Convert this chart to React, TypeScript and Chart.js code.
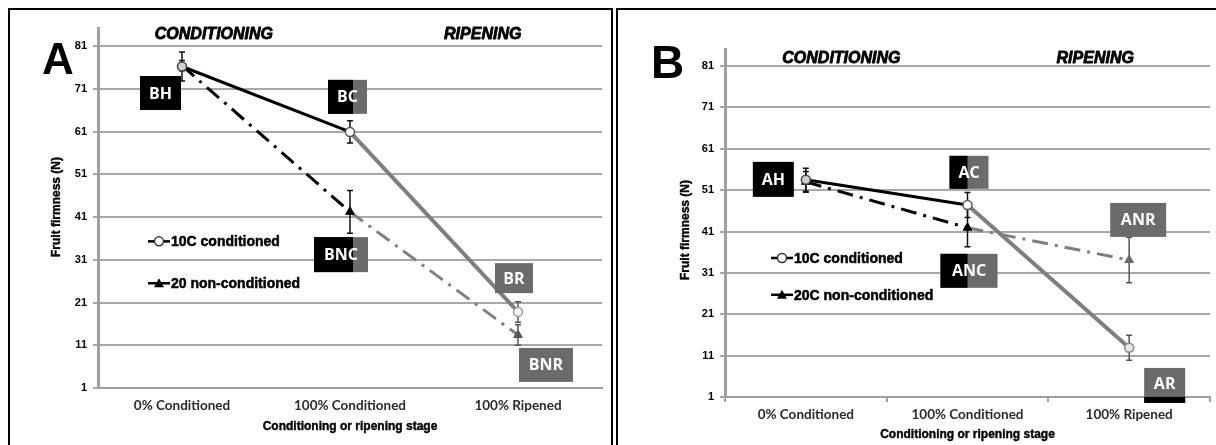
import React, { useEffect, useRef } from "react";
import { Chart, registerables } from "chart.js";

Chart.register(...registerables);

// ---------- shared data ----------
const categories = ["0% Conditioned", "100% Conditioned", "100% Ripened"];
const yTickValues = [1, 11, 21, 31, 41, 51, 61, 71, 81];
const yMin = 1;
const yMax = 85;
const stageTitles = ["CONDITIONING", "RIPENING"];
const xAxisTitle = "Conditioning or ripening stage";
const yAxisTitle = "Fruit firmness (N)";

// ---------- panel A data ----------
const aConditioned = [76.2, 60.9, 18.8];
const aConditionedErr = [3.4, 2.6, 2.4];
const aNonConditioned = [76.4, 42.2, 13.4];
const aNonConditionedErr = [1.2, 5.0, 2.4];
const aSeriesNames = ["10C conditioned", "20 non-conditioned"];
const aLabelTexts = ["BH", "BC", "BNC", "BR", "BNR"];
const aLabelCats = [0, 1, 1, 2, 2];
const aLabelValues = [70.0, 69.1, 32.2, 26.7, 6.4];

// ---------- panel B data ----------
const bConditioned = [53.5, 47.4, 12.9];
const bConditionedErr = [2.8, 3.0, 3.0];
const bNonConditioned = [53.0, 41.9, 34.1];
const bNonConditionedErr = [2.5, 4.6, 5.5];
const bSeriesNames = ["10C conditioned", "20C non-conditioned"];
const bLabelTexts = ["AH", "AC", "ANC", "ANR", "AR"];
const bLabelCats = [0, 1, 1, 2, 2];
const bLabelValues = [53.6, 55.3, 31.5, 43.8, 3.8];

// ---------- layout / style configs ----------
const panelA = {
  letter: "A",
  cond: aConditioned,
  condErr: aConditionedErr,
  non: aNonConditioned,
  nonErr: aNonConditionedErr,
  names: aSeriesNames,
  labelTexts: aLabelTexts,
  labelCats: aLabelCats,
  labelValues: aLabelValues,
  labelLayout: [
    { dx: -21.5, w: 41, h: 34, style: "black", split: 0 },
    { dx: -2.5, w: 39, h: 34, style: "split", split: 3 },
    { dx: -9, w: 54, h: 35, style: "split", split: 3 },
    { dx: -4, w: 38, h: 30, style: "gray", split: 0 },
    { dx: 28, w: 54, h: 34, style: "gray", split: 0 },
  ],
  canvasLeft: 10,
  canvasTop: 10,
  width: 601,
  height: 435,
  padTop: 18.9,
  padRight: 9,
  yAxisWidth: 88,
  xAxisHeight: 57,
  letterX: 32,
  letterBaseline: 64,
  letterSize: 44,
  stageX: [0.19, 1.79],
  stageValue: 83.6,
  legendDx: 50,
  legendValues: [35.3, 25.5],
  yTitleX: 47,
  yTitleY: 197,
  xTitleDy: 39,
  xTicksDraw: false,
  xTickPadding: 10,
  condFill: ["#d0d0d0", "#ffffff", "#f2f2f2"],
  condBorder: ["#444", "#555", "#999"],
  nonFill: ["#000", "#000", "#555"],
};

const panelB = {
  letter: "B",
  cond: bConditioned,
  condErr: bConditionedErr,
  non: bNonConditioned,
  nonErr: bNonConditionedErr,
  names: bSeriesNames,
  labelTexts: bLabelTexts,
  labelCats: bLabelCats,
  labelValues: bLabelValues,
  labelLayout: [
    { dx: -32.5, w: 41, h: 35, style: "black", split: 0 },
    { dx: 1.5, w: 39, h: 33, style: "split", split: 0 },
    { dx: 1.5, w: 57, h: 34, style: "split", split: 0 },
    { dx: 9, w: 56, h: 34, style: "gray", split: 0 },
    { dx: 35.5, w: 41, h: 35, style: "grayBottom", split: 0 },
  ],
  canvasLeft: 618,
  canvasTop: 10,
  width: 598,
  height: 435,
  padTop: 39.45,
  padRight: 2,
  yAxisWidth: 107,
  xAxisHeight: 48,
  letterX: 33,
  letterBaseline: 68,
  letterSize: 46,
  stageX: [0.22, 1.79],
  stageValue: 82.7,
  legendDx: 46,
  legendValues: [34.6, 25.7],
  yTitleX: 68,
  yTitleY: 220,
  xTitleDy: 38,
  xTicksDraw: true,
  xTickPadding: 5,
  condFill: ["#d0d0d0", "#ffffff", "#e6e6e6"],
  condBorder: ["#444", "#555", "#888"],
  nonFill: ["#000", "#000", "#666"],
};

type PanelCfg = typeof panelA;

const SANS = '"Liberation Sans", Arial, sans-serif';
const BLACK = "#000000";
const GRAY_LINE = "#7f7f7f";
const GRAY_BOX = "#6b6b6b";

function heavyText(ctx: CanvasRenderingContext2D, t: string, x: number, y: number, w: number) {
  ctx.fillText(t, x, y);
  ctx.lineWidth = w;
  ctx.strokeStyle = ctx.fillStyle as string;
  ctx.lineJoin = "round";
  ctx.strokeText(t, x, y);
}

function annotationPlugin(cfg: PanelCfg) {
  return {
    id: "annot" + cfg.letter,
    beforeDatasetsDraw(chart: any) {
      const ctx = chart.ctx as CanvasRenderingContext2D;
      const xs = chart.scales.x;
      const ys = chart.scales.y;
      ctx.save();
      const series: [number[], number[]][] = [
        [cfg.cond, cfg.condErr],
        [cfg.non, cfg.nonErr],
      ];
      series.forEach(([vals, errs]) => {
        vals.forEach((v, i) => {
          const px = xs.getPixelForValue(i);
          const top = ys.getPixelForValue(v + errs[i]);
          const bot = ys.getPixelForValue(v - errs[i]);
          ctx.strokeStyle = i < 2 ? "#111" : "#555";
          ctx.lineWidth = 1.5;
          ctx.setLineDash([]);
          ctx.beginPath();
          ctx.moveTo(px, top);
          ctx.lineTo(px, bot);
          ctx.moveTo(px - 3, top);
          ctx.lineTo(px + 3, top);
          ctx.moveTo(px - 3, bot);
          ctx.lineTo(px + 3, bot);
          ctx.stroke();
        });
      });
      ctx.restore();
    },
    afterDraw(chart: any) {
      const ctx = chart.ctx as CanvasRenderingContext2D;
      const xs = chart.scales.x;
      const ys = chart.scales.y;
      const area = chart.chartArea;
      ctx.save();
      ctx.setLineDash([]);

      // big panel letter
      ctx.fillStyle = BLACK;
      ctx.font = `bold ${cfg.letterSize}px ${SANS}`;
      ctx.textAlign = "left";
      ctx.textBaseline = "alphabetic";
      ctx.fillText(cfg.letter, cfg.letterX, cfg.letterBaseline);

      // stage titles
      ctx.font = `italic bold 16px ${SANS}`;
      ctx.textAlign = "center";
      ctx.textBaseline = "middle";
      stageTitles.forEach((t, k) => {
        heavyText(ctx, t, xs.getPixelForValue(cfg.stageX[k]), ys.getPixelForValue(cfg.stageValue), 0.8);
      });

      // axis titles
      ctx.font = `bold 12px ${SANS}`;
      heavyText(ctx, xAxisTitle, (area.left + area.right) / 2, area.bottom + cfg.xTitleDy, 0.4);
      ctx.save();
      ctx.translate(cfg.yTitleX, cfg.yTitleY);
      ctx.rotate(-Math.PI / 2);
      heavyText(ctx, yAxisTitle, 0, 0, 0.4);
      ctx.restore();

      // legend
      const lx = area.left + cfg.legendDx;
      cfg.legendValues.forEach((v, k) => {
        const ly = ys.getPixelForValue(v);
        ctx.strokeStyle = BLACK;
        ctx.lineWidth = 2.5;
        ctx.beginPath();
        ctx.moveTo(lx, ly);
        ctx.lineTo(lx + 22, ly);
        ctx.stroke();
        const cx = lx + 11;
        if (k === 0) {
          ctx.beginPath();
          ctx.arc(cx, ly, 4.5, 0, Math.PI * 2);
          ctx.fillStyle = "#fff";
          ctx.fill();
          ctx.lineWidth = 1.5;
          ctx.strokeStyle = "#333";
          ctx.stroke();
        } else {
          ctx.beginPath();
          ctx.moveTo(cx, ly - 5);
          ctx.lineTo(cx - 5, ly + 4);
          ctx.lineTo(cx + 5, ly + 4);
          ctx.closePath();
          ctx.fillStyle = BLACK;
          ctx.fill();
        }
        ctx.fillStyle = BLACK;
        ctx.font = `bold 14px ${SANS}`;
        ctx.textAlign = "left";
        ctx.textBaseline = "middle";
        heavyText(ctx, cfg.names[k], lx + 23, ly + 1, 0.5);
      });

      // letter boxes
      cfg.labelTexts.forEach((t, k) => {
        const lay = cfg.labelLayout[k];
        const px = xs.getPixelForValue(cfg.labelCats[k]);
        const cx = px + lay.dx;
        const cy = ys.getPixelForValue(cfg.labelValues[k]);
        const x0 = cx - lay.w / 2;
        const y0 = cy - lay.h / 2;
        if (lay.style === "black") {
          ctx.fillStyle = BLACK;
          ctx.fillRect(x0, y0, lay.w, lay.h);
        } else if (lay.style === "split") {
          ctx.fillStyle = GRAY_BOX;
          ctx.fillRect(x0, y0, lay.w, lay.h);
          ctx.fillStyle = BLACK;
          ctx.fillRect(x0, y0, px + lay.split - x0, lay.h);
        } else if (lay.style === "grayBottom") {
          ctx.fillStyle = GRAY_BOX;
          ctx.fillRect(x0, y0, lay.w, lay.h);
          ctx.fillStyle = BLACK;
          ctx.fillRect(x0, y0 + lay.h - 6, lay.w, 6);
        } else {
          ctx.fillStyle = GRAY_BOX;
          ctx.fillRect(x0, y0, lay.w, lay.h);
        }
        ctx.fillStyle = "#ffffff";
        ctx.font = `bold 16px "Open Sans", ${SANS}`;
        ctx.textAlign = "center";
        ctx.textBaseline = "middle";
        ctx.fillText(t, cx, cy + 1 - (lay.style === "grayBottom" ? 2 : 0));
      });

      ctx.restore();
    },
  };
}

function makeChart(canvas: HTMLCanvasElement, cfg: PanelCfg) {
  const segColor = (c: any) => (c.p0DataIndex === 0 ? BLACK : GRAY_LINE);
  return new Chart(canvas, {
    type: "line",
    data: {
      labels: categories,
      datasets: [
        {
          label: cfg.names[0],
          data: cfg.cond,
          borderColor: BLACK,
          borderWidth: 3,
          segment: {
            borderColor: segColor,
            borderWidth: (c: any) => (c.p0DataIndex === 0 ? 3 : 4),
          },
          pointStyle: "circle",
          pointRadius: 4.5,
          pointBackgroundColor: cfg.condFill,
          pointBorderColor: cfg.condBorder,
          pointBorderWidth: 1.5,
          tension: 0,
          fill: false,
        },
        {
          label: cfg.names[1],
          data: cfg.non,
          borderColor: BLACK,
          borderWidth: 3,
          borderDash: [16, 7, 3, 7],
          segment: {
            borderColor: segColor,
          },
          pointStyle: "triangle",
          pointRadius: 5,
          pointBackgroundColor: cfg.nonFill,
          pointBorderColor: cfg.nonFill,
          pointBorderWidth: 1,
          tension: 0,
          fill: false,
        },
      ],
    } as any,
    options: {
      animation: false,
      responsive: false,
      devicePixelRatio: 1,
      events: [],
      layout: {
        padding: { top: cfg.padTop, right: cfg.padRight, left: 0, bottom: 0 },
      },
      plugins: {
        legend: { display: false },
        tooltip: { enabled: false },
        title: { display: false },
      },
      scales: {
        x: {
          type: "category",
          offset: true,
          grid: {
            display: true,
            drawOnChartArea: false,
            drawTicks: cfg.xTicksDraw,
            tickLength: 5,
            offset: true,
            color: "#a0a0a0",
            lineWidth: 2,
          },
          border: { display: true, color: "#a0a0a0", width: 2 },
          ticks: {
            padding: cfg.xTickPadding,
            color: "#2a2a2a",
            font: { family: "Lato, 'Open Sans', sans-serif", size: 13.5, weight: "bold" },
            maxRotation: 0,
            autoSkip: false,
          },
          afterFit: (s: any) => {
            s.height = cfg.xAxisHeight;
          },
        },
        y: {
          type: "linear",
          min: yMin,
          max: yMax,
          afterBuildTicks: (s: any) => {
            s.ticks = yTickValues.map((v) => ({ value: v }));
          },
          afterFit: (s: any) => {
            s.width = cfg.yAxisWidth;
          },
          grid: {
            color: "#a8a8a8",
            lineWidth: 2,
            drawTicks: true,
            tickLength: 5,
          },
          border: { display: true, color: "#a0a0a0", width: 3 },
          ticks: {
            padding: 6,
            color: "#000",
            font: { family: SANS, size: 11, weight: "bold" },
          },
        },
      },
    } as any,
    plugins: [annotationPlugin(cfg)],
  });
}

function Panel({ cfg }: { cfg: PanelCfg }) {
  const ref = useRef<HTMLCanvasElement>(null);
  useEffect(() => {
    if (!ref.current) return;
    const chart = makeChart(ref.current, cfg);
    return () => chart.destroy();
  }, [cfg]);
  return (
    <canvas
      ref={ref}
      width={cfg.width}
      height={cfg.height}
      style={{
        position: "absolute",
        left: cfg.canvasLeft,
        top: cfg.canvasTop,
        width: cfg.width,
        height: cfg.height,
      }}
    />
  );
}

export default function App() {
  return (
    <div
      style={{
        position: "fixed",
        left: 0,
        top: 0,
        width: 1216,
        height: 445,
        background: "#fff",
        overflow: "hidden",
      }}
    >
      <div
        style={{
          position: "absolute",
          left: 8,
          top: 8,
          width: 601,
          height: 450,
          borderLeft: "2px solid #000",
          borderTop: "2px solid #000",
          borderRight: "2px solid #000",
        }}
      />
      <div
        style={{
          position: "absolute",
          left: 616,
          top: 8,
          width: 620,
          height: 450,
          borderLeft: "2px solid #000",
          borderTop: "2px solid #000",
        }}
      />
      <Panel cfg={panelA} />
      <Panel cfg={panelB} />
    </div>
  );
}
